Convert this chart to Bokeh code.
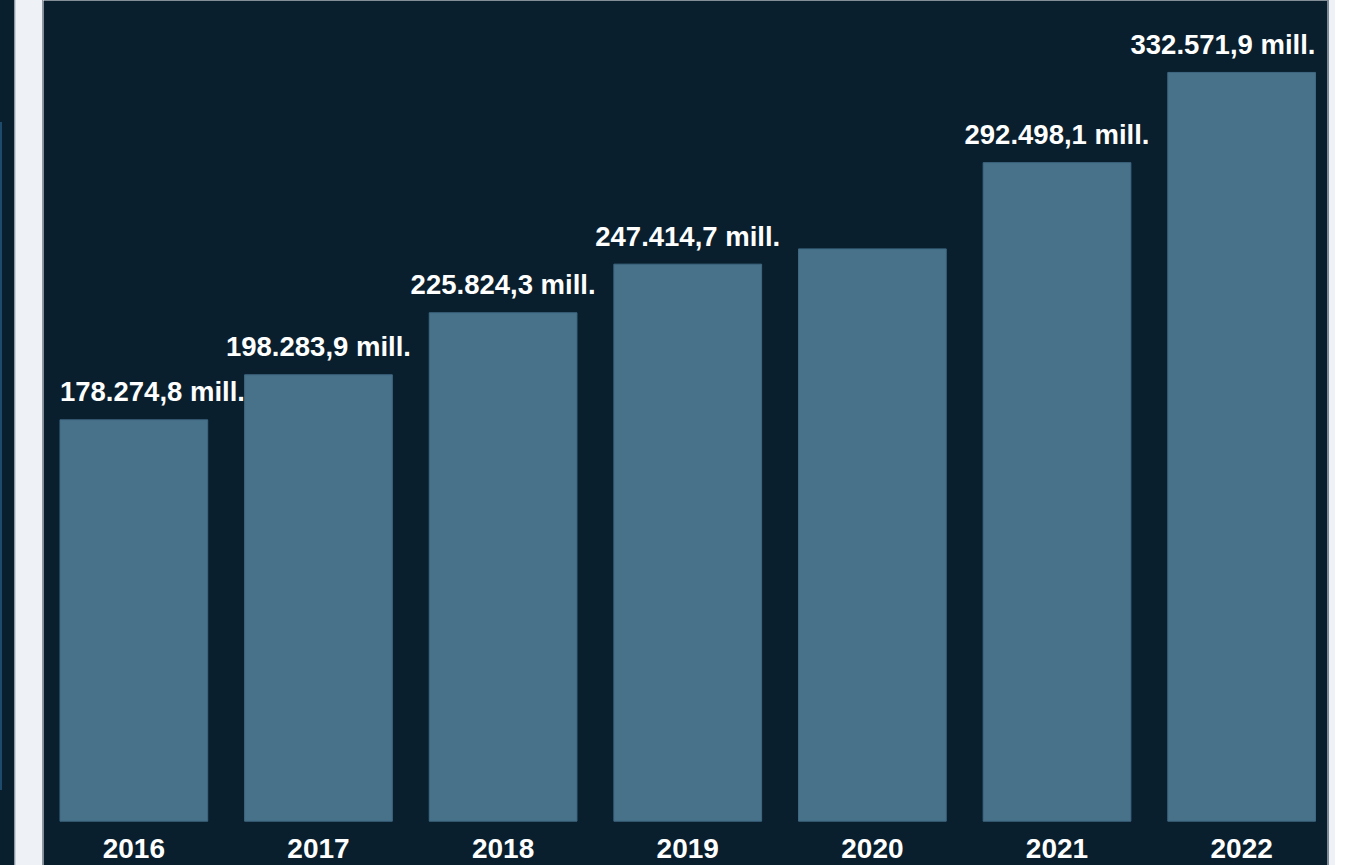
from bokeh.plotting import figure
from bokeh.models import ColumnDataSource, Range1d, Div
from bokeh.layouts import row
from bokeh.core.properties import value
from bokeh.embed import file_html
from bokeh.resources import INLINE

# ---- data ----
years = ["2016", "2017", "2018", "2019", "2020", "2021", "2022"]
values = [178274.8, 198283.9, 225824.3, 247414.7, 254200.0, 292498.1, 332571.9]
show_label = [True, True, True, True, False, True, True]


def fmt(v):
    s = f"{v:,.1f}"
    return s.replace(",", "X").replace(".", ",").replace("X", ".") + " mill."


n = len(years)
idx = list(range(n))
labels = [fmt(v) if s else "" for v, s in zip(values, show_label)]
aligns = ["left"] + ["center"] * (n - 2) + ["right"]
bar_w = 0.8
label_x = [i - bar_w / 2 if a == "left" else (i + bar_w / 2 if a == "right" else i)
           for i, a in zip(idx, aligns)]

src = ColumnDataSource(dict(x=idx, top=values, year=years, lab=labels,
                            lx=label_x, align=aligns))

DARK = "#0a1f2e"
BAR = "#48728a"

p = figure(width=1284, height=865, output_backend="svg", toolbar_location=None,
           x_range=Range1d(-0.4893, 6.465), y_range=Range1d(-19677, 364528),
           x_axis_type=None, y_axis_type=None, min_border=0,
           background_fill_color=DARK, border_fill_color=DARK,
           outline_line_color=None)
p.grid.visible = False

p.vbar(x="x", top="top", bottom=0, width=bar_w, source=src,
       fill_color=BAR, line_color="#3f6882", line_width=1)

p.text(x="lx", y="top", text="lab", source=src, text_align="align",
       text_baseline="alphabetic", y_offset=-28,
       text_font=value("Liberation Sans"), text_font_style="bold",
       text_font_size="27.5px", text_color="#ffffff")

p.text(x="x", y=0, text="year", source=src, text_align="center",
       text_baseline="alphabetic", y_offset=27,
       text_font=value("Liberation Sans"), text_font_style="bold",
       text_font_size="28px", text_color="#ffffff")

left = Div(width=43, height=865, margin=0, styles={
    "background": "linear-gradient(to bottom, transparent 0 122px, #1e4a6c 122px 790px, transparent 790px) 0 0 / 2px 100% no-repeat, "
                  "linear-gradient(to right, #0a1f2e 0 14px, #8d99a5 14px 15px, #c9d1d8 15px 16px, #eef2f6 16px 42px, #8d99a5 42px 43px)"})
right = Div(width=41, height=865, margin=0, styles={
    "background": "linear-gradient(to right, #7d8a96 0 2px, #eef1f5 2px 8px, #ffffff 8px)"})

layout = row(left, p, right, spacing=0)

open("out.html", "w").write(file_html(layout, INLINE))
